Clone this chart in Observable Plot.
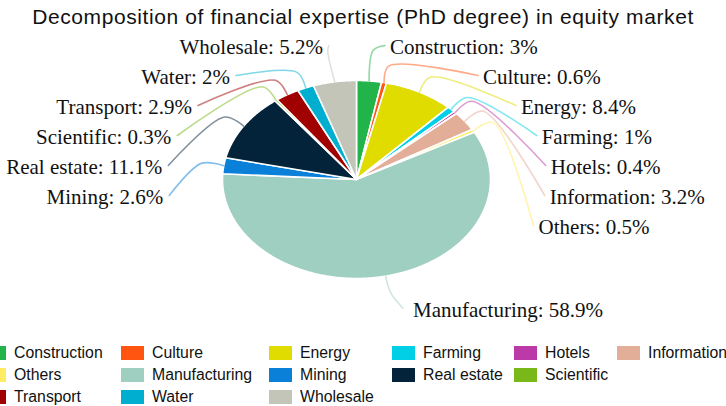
<!DOCTYPE html>
<html>
<head>
<meta charset="utf-8">
<script src="https://cdn.jsdelivr.net/npm/d3@7"></script>
<script src="https://cdn.jsdelivr.net/npm/@observablehq/plot@0.6"></script>
<style>
  html, body { margin: 0; padding: 0; background: #fff; }
  #wrap { position: relative; width: 726px; height: 406px; overflow: hidden; }
  #chart { position: absolute; left: 0; top: 0; }
  #title { position: absolute; left: 0; top: 6px; width: 726px; text-align: center;
           font: 21px/21px "Liberation Sans", Arial, sans-serif; letter-spacing: 0.6px; color: #111; }
  #legend { position: absolute; left: 0; top: 0; width: 726px; height: 406px;
            font: 15.8px "Liberation Sans", Arial, sans-serif; color: #111; }
  .item { position: absolute; height: 14px; display: flex; align-items: center; white-space: nowrap; }
  .sw { width: 23px; height: 14px; margin-right: 8px; flex: none; }
</style>
</head>
<body>
<div id="wrap">
  <div id="chart"></div>
  <div id="title">Decomposition of financial expertise (PhD degree) in equity market</div>
  <div id="legend"></div>
</div>
<script>
// ---- data ----
const categories = ["Construction", "Culture", "Energy", "Farming", "Hotels", "Information", "Others",
                    "Manufacturing", "Mining", "Real estate", "Scientific", "Transport", "Water", "Wholesale"];
const shares = [3, 0.6, 8.4, 1, 0.4, 3.2, 0.5, 58.9, 2.6, 11.1, 0.3, 2.9, 2, 5.2];
const colors = ["#22b34a", "#ff5511", "#e0dc00", "#00cfe6", "#bb3aa8", "#e3ae98", "#ffec62",
                "#9fcfc0", "#0a80d8", "#03233b", "#78b818", "#a00000", "#00afcf", "#c3c5b9"];
const legendRowSizes = [6, 5, 3];

// ---- layout (pixels) ----
const W = 726, H = 406;
const cx = 356, cy = 179, rx = 134, ry = 99;          // tilted pie ellipse
const labelRx = 195, labelRy = 134;                   // ellipse the labels sit on
const labelTop = 47, labelGap = 30;
const elbowFactor = 1.17;
const legendColX = [-17, 121, 269, 392, 514, 617];
const legendRowY = [353, 375, 397];

// ---- pie geometry from data ----
const arcs = d3.pie().sort(null).value(d => d)(shares).map((a, i) => ({
  cat: categories[i], value: shares[i], start: a.startAngle, end: a.endAngle,
  mid: (a.startAngle + a.endAngle) / 2
}));
const px = (a, f = 1) => cx + f * rx * Math.sin(a);
const py = (a, f = 1) => cy - f * ry * Math.cos(a);

const slicePts = [];
arcs.forEach(a => {
  slicePts.push({cat: a.cat, x: cx, y: cy});
  const n = Math.max(2, Math.ceil((a.end - a.start) / (Math.PI / 360)));
  for (let k = 0; k <= n; k++) {
    const t = a.start + (a.end - a.start) * k / n;
    slicePts.push({cat: a.cat, x: px(t), y: py(t)});
  }
  slicePts.push({cat: a.cat, x: cx, y: cy});
});

// ---- label placement ----
const largest = d3.maxIndex(shares);
const rightSide = arcs.filter((a, i) => i !== largest && a.mid < Math.PI);
const leftSide = arcs.filter((a, i) => i !== largest && a.mid >= Math.PI).reverse();
const onEllipseX = (y, sign) => cx + sign * labelRx * Math.sqrt(Math.max(0, 1 - ((y - cy) / labelRy) ** 2));
rightSide.forEach((a, k) => { a.side = "right"; a.ly = labelTop + k * labelGap; a.lx = onEllipseX(a.ly, 1); a.tx = a.lx; a.ex = a.lx - 5; });
leftSide.forEach((a, k) => { a.side = "left"; a.ly = labelTop + k * labelGap; a.lx = onEllipseX(a.ly, -1); a.tx = a.lx; a.ex = a.lx + 6; });
{
  const a = arcs[largest];
  a.side = "right";
  a.lx = cx + labelRx * Math.sin(a.mid);
  a.ly = cy - labelRy * Math.cos(a.mid);
  a.tx = a.lx + 14; a.ex = a.lx + 4;
}

const leaderPts = [];
arcs.forEach(a => {
  let f = elbowFactor;
  const c = Math.cos(a.mid);
  if (c > 0) {
    const target = a.ly + 3;
    const yDefault = py(a.mid, f);
    if (target < yDefault) f = (cy - target) / (ry * c);
  }
  leaderPts.push({cat: a.cat, x: px(a.mid, 1), y: py(a.mid, 1)});
  leaderPts.push({cat: a.cat, x: px(a.mid, f), y: py(a.mid, f)});
  leaderPts.push({cat: a.cat, x: a.ex, y: a.ly - 2});
});

const fmt = a => `${a.cat}: ${a.value}%`;

const chart = Plot.plot({
  width: W, height: H, margin: 0,
  x: {domain: [0, W], range: [0, W], axis: null},
  y: {domain: [0, H], range: [0, H], axis: null},
  color: {type: "ordinal", domain: categories, range: colors},
  style: {background: "transparent"},
  marks: [
    Plot.line(slicePts, {x: "x", y: "y", z: "cat", fill: "cat", stroke: "white", strokeWidth: 1.6, strokeLinejoin: "round"}),
    Plot.line(leaderPts, {x: "x", y: "y", z: "cat", stroke: "cat", strokeWidth: 1.6, strokeOpacity: 0.5, curve: "catmull-rom"}),
    Plot.text(arcs.filter(a => a.side === "right"), {x: "tx", y: "ly", text: fmt, textAnchor: "start",
      fontSize: 21, fontFamily: "Liberation Serif, Times New Roman, serif", fill: "#111"}),
    Plot.text(arcs.filter(a => a.side === "left"), {x: "tx", y: "ly", text: fmt, textAnchor: "end",
      fontSize: 21, fontFamily: "Liberation Serif, Times New Roman, serif", fill: "#111"})
  ]
});
document.getElementById("chart").appendChild(chart);

// ---- legend ----
const legend = document.getElementById("legend");
let idx = 0;
legendRowSizes.forEach((n, r) => {
  for (let c = 0; c < n; c++, idx++) {
    const item = document.createElement("div");
    item.className = "item";
    item.style.left = legendColX[c] + "px";
    item.style.top = (legendRowY[r] - 7) + "px";
    const sw = document.createElement("span");
    sw.className = "sw";
    sw.style.background = colors[idx];
    const tx = document.createElement("span");
    tx.textContent = categories[idx];
    item.appendChild(sw); item.appendChild(tx);
    legend.appendChild(item);
  }
});
</script>
</body>
</html>
